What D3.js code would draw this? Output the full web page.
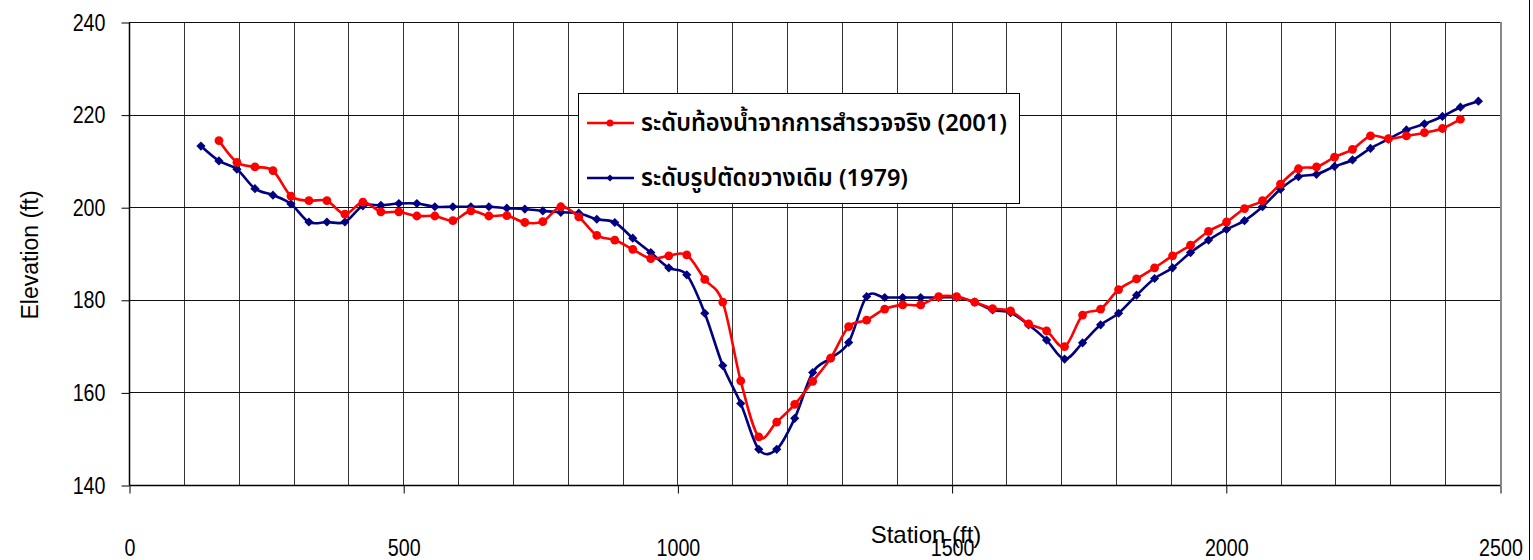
<!DOCTYPE html>
<html>
<head>
<meta charset="utf-8">
<script src="https://cdn.jsdelivr.net/npm/d3@7/dist/d3.min.js"></script>
<style>
  html, body { margin: 0; padding: 0; background: #fff; }
  svg { display: block; }
  text { font-family: "Liberation Sans", Arial, sans-serif; fill: #000; }
</style>
</head>
<body>
<svg id="chart" width="1533" height="560"></svg>
<script>
// ---- Data ----
const stations1979 = [131.2, 164.0, 196.8, 229.7, 262.5, 295.3, 328.1, 360.9, 393.7, 426.5, 459.3, 492.1, 524.9, 557.7, 590.6, 623.4, 656.2, 689.0, 721.8, 754.6, 787.4, 820.2, 853.0, 885.8, 918.6, 951.4, 984.3, 1017.1, 1049.9, 1082.7, 1115.5, 1148.3, 1181.1, 1213.9, 1246.7, 1279.5, 1312.3, 1345.1, 1378.0, 1410.8, 1443.6, 1476.4, 1509.2, 1542.0, 1574.8, 1607.6, 1640.4, 1673.2, 1706.0, 1738.8, 1771.7, 1804.5, 1837.3, 1870.1, 1902.9, 1935.7, 1968.5, 2001.3, 2034.1, 2066.9, 2099.7, 2132.5, 2165.4, 2198.2, 2231.0, 2263.8, 2296.6, 2329.4, 2362.2, 2395.0, 2427.8, 2460.6];
const elev1979 = [213.2, 210.0, 208.2, 204.0, 202.6, 200.7, 196.8, 196.8, 196.8, 200.3, 200.4, 200.8, 200.8, 200.1, 200.1, 200.1, 200.1, 199.8, 199.6, 199.2, 198.9, 198.7, 197.4, 196.7, 193.3, 190.2, 186.9, 185.4, 177.1, 165.8, 157.6, 147.7, 147.7, 154.4, 164.3, 167.4, 170.8, 180.7, 180.5, 180.5, 180.5, 180.5, 180.5, 179.5, 177.8, 177.2, 174.6, 171.3, 167.2, 170.7, 174.6, 177.1, 181.0, 184.6, 186.9, 190.2, 192.9, 195.2, 197.1, 200.1, 203.9, 206.6, 207.1, 208.8, 210.2, 212.7, 214.7, 216.7, 218.0, 219.6, 221.6, 222.9];

const stations2001 = [164.0, 196.8, 229.7, 262.5, 295.3, 328.1, 360.9, 393.7, 426.5, 459.3, 492.1, 524.9, 557.7, 590.6, 623.4, 656.2, 689.0, 721.8, 754.6, 787.4, 820.2, 853.0, 885.8, 918.6, 951.4, 984.3, 1017.1, 1049.9, 1082.7, 1115.5, 1148.3, 1181.1, 1213.9, 1246.7, 1279.5, 1312.3, 1345.1, 1378.0, 1410.8, 1443.6, 1476.4, 1509.2, 1542.0, 1574.8, 1607.6, 1640.4, 1673.2, 1706.0, 1738.8, 1771.7, 1804.5, 1837.3, 1870.1, 1902.9, 1935.7, 1968.5, 2001.3, 2034.1, 2066.9, 2099.7, 2132.5, 2165.4, 2198.2, 2231.0, 2263.8, 2296.6, 2329.4, 2362.2, 2395.0, 2427.8];
const elev2001 = [214.4, 209.7, 208.7, 207.9, 202.4, 201.4, 201.4, 198.5, 201.1, 199.0, 199.0, 198.1, 198.1, 197.1, 199.2, 198.1, 198.2, 196.7, 196.9, 200.1, 197.9, 193.9, 192.9, 190.9, 188.9, 189.5, 189.7, 184.4, 179.5, 162.5, 150.4, 153.6, 157.4, 162.4, 167.4, 174.2, 175.6, 178.0, 178.9, 178.9, 180.7, 180.7, 179.5, 178.1, 177.6, 174.8, 173.3, 169.9, 176.7, 178.0, 182.2, 184.5, 186.9, 189.5, 191.8, 194.8, 196.8, 199.7, 201.4, 205.0, 208.3, 208.7, 210.8, 212.5, 215.4, 214.8, 215.4, 216.1, 217.0, 219.0];

const seriesNames = ["ระดับท้องน้ำจากการสำรวจจริง (2001)", "ระดับรูปตัดขวางเดิม (1979)"];
const xTicks = [0, 500, 1000, 1500, 2000, 2500];
const yTicks = [140, 160, 180, 200, 220, 240];
const xTitle = "Station (ft)";
const yTitle = "Elevation (ft)";

// ---- Layout ----
const svg = d3.select("#chart");
const pL = 129, pR = 1500, pT = 22, pB = 485;
const tickFont = "'Liberation Sans', Arial, sans-serif";

const x = d3.scaleLinear().domain([0, 2500]).range([pL, pR]);
const y = d3.scaleLinear().domain([140, 240]).range([pB, pT]);

// outer chart border (right edge visible)
svg.append("line").attr("x1", 1529.5).attr("x2", 1529.5).attr("y1", 0).attr("y2", 560)
  .attr("stroke", "#000").attr("stroke-width", 1);

// grid
const g = svg.append("g");
const vGrid = d3.range(100, 2500, 100);
g.selectAll("line.vg").data(vGrid).join("line")
  .attr("x1", d => Math.round(x(d)) + 0.5).attr("x2", d => Math.round(x(d)) + 0.5)
  .attr("y1", pT).attr("y2", pB)
  .attr("stroke", "#333").attr("stroke-width", 1);
g.selectAll("line.hg").data(yTicks.filter(d => d > 140)).join("line")
  .attr("x1", pL).attr("x2", pR)
  .attr("y1", d => Math.round(y(d)) + 0.5).attr("y2", d => Math.round(y(d)) + 0.5)
  .attr("stroke", "#111").attr("stroke-width", 1);

// plot area right border (gray)
svg.append("line").attr("x1", pR + 1).attr("x2", pR + 1).attr("y1", pT).attr("y2", pB)
  .attr("stroke", "#888").attr("stroke-width", 2);

// axes
const yAxis = d3.axisLeft(y).tickValues(yTicks).tickSize(8).tickPadding(16).tickFormat(d3.format("d"));
const yg = svg.append("g").attr("transform", `translate(${pL + 0.5},0.5)`).call(yAxis);
yg.select(".domain").attr("stroke", "#000").attr("stroke-width", 1.5).attr("d", `M0,${pT}V${pB}`);
yg.selectAll(".tick line").attr("stroke", "#000");
yg.selectAll(".tick text").attr("font-size", 24).attr("fill", "#333")
  .attr("font-family", tickFont)
  .attr("x", null).attr("transform", "translate(-24,0) scale(0.82,1)");

const xAxis = d3.axisBottom(x).tickValues(xTicks).tickSize(8).tickFormat(d3.format("d"));
const xg = svg.append("g").attr("transform", `translate(0.5,${pB + 0.5})`).call(xAxis);
xg.select(".domain").attr("stroke", "#000").attr("stroke-width", 1.5).attr("d", `M${pL},0H${pR}`);
xg.selectAll(".tick line").attr("stroke", "#000");
xg.selectAll(".tick text").attr("font-size", 24).attr("fill", "#333")
  .attr("y", 0).attr("dy", null)
  .attr("transform", "translate(0,70) scale(0.82,1)")
  .attr("font-family", tickFont);

// axis titles
svg.append("text").attr("x", 926).attr("y", 543).attr("text-anchor", "middle")
  .attr("font-size", 24).attr("fill", "#222").text(xTitle);
svg.append("text").attr("transform", "translate(38,255) rotate(-90)").attr("text-anchor", "middle")
  .attr("font-size", 23).attr("fill", "#222").text(yTitle);

// series
const line = d3.line().curve(d3.curveCardinal.tension(0)).x(d => x(d[0])).y(d => y(d[1]));
const d1979 = stations1979.map((s, i) => [s, elev1979[i]]);
const d2001 = stations2001.map((s, i) => [s, elev2001[i]]);

const blue = "#000080", red = "#FF0000";
const diamond = (cx, cy, r) => `M${cx},${cy - r}L${cx + r},${cy}L${cx},${cy + r}L${cx - r},${cy}Z`;

svg.append("path").datum(d1979).attr("d", line).attr("fill", "none")
  .attr("stroke", blue).attr("stroke-width", 2.6).attr("stroke-linejoin", "round");
svg.append("g").selectAll("path").data(d1979).join("path")
  .attr("d", d => diamond(x(d[0]), y(d[1]), 4.6)).attr("fill", blue);

svg.append("path").datum(d2001).attr("d", line).attr("fill", "none")
  .attr("stroke", red).attr("stroke-width", 2.6).attr("stroke-linejoin", "round");
svg.append("g").selectAll("circle").data(d2001).join("circle")
  .attr("cx", d => x(d[0])).attr("cy", d => y(d[1])).attr("r", 4.4).attr("fill", red);

// legend
const lg = svg.append("g");
lg.append("rect").attr("x", 578.5).attr("y", 93.5).attr("width", 441).attr("height", 110)
  .attr("fill", "#fff").attr("stroke", "#000").attr("stroke-width", 1);
const rows = [{name: seriesNames[0], color: red, type: "circle", yy: 123, w: 366},
              {name: seriesNames[1], color: blue, type: "diamond", yy: 178, w: 267}];
rows.forEach(r => {
  lg.append("line").attr("x1", 587).attr("x2", 634).attr("y1", r.yy).attr("y2", r.yy)
    .attr("stroke", r.color).attr("stroke-width", 2.5);
  if (r.type === "circle") lg.append("circle").attr("cx", 610).attr("cy", r.yy).attr("r", 3.5).attr("fill", r.color);
  else lg.append("path").attr("d", diamond(610, r.yy, 3.5)).attr("fill", r.color);
  lg.append("text").attr("x", 641).attr("y", r.yy + 1).attr("dominant-baseline", "central")
    .attr("font-size", 24).attr("font-weight", 600)
    .attr("textLength", r.w).attr("lengthAdjust", "spacingAndGlyphs")
    .style("font-family", "Tahoma, 'Noto Sans Thai', 'Noto Sans Thai UI', Loma, Garuda, 'DejaVu Sans', sans-serif")
    .text(r.name);
});
</script>
</body>
</html>
